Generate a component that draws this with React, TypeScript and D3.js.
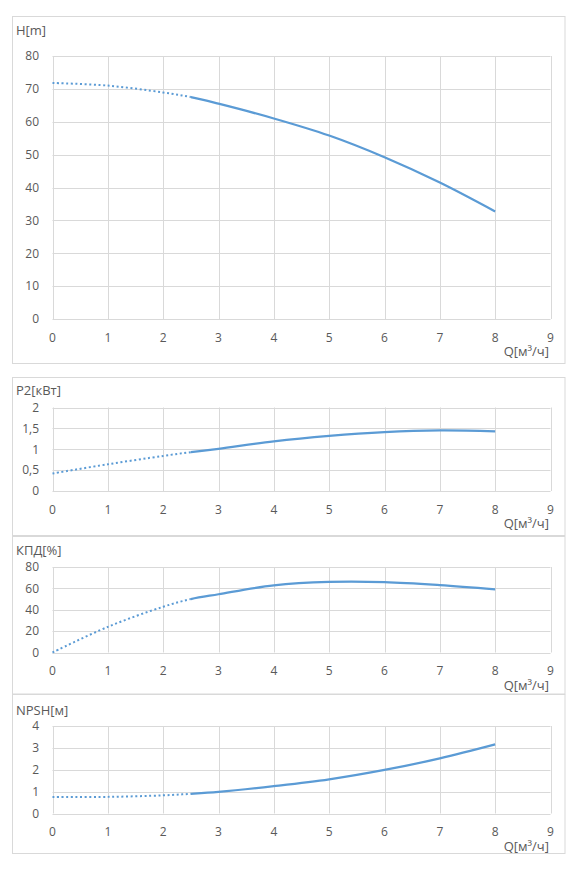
import React from "react";
import * as d3 from "d3";

// Pump performance curves, flow Q in m³/h
const flowQ = [0, 1, 2, 2.5, 3, 4, 5, 6, 7, 8];
const headM = [71.8, 71.0, 68.9, 67.5, 65.5, 61.0, 55.8, 49.2, 41.5, 32.7];
const powerKW = [0.42, 0.64, 0.84, 0.93, 1.01, 1.19, 1.32, 1.41, 1.45, 1.43];
const efficiencyPct = [0, 24, 42.8, 50, 54.5, 62.8, 66, 65.8, 63, 59];
const npshM = [0.76, 0.76, 0.83, 0.9, 0.99, 1.25, 1.56, 1.99, 2.52, 3.16];

// below this flow the curve is drawn dotted
const workStart = 2.5;

const xTicks = [0, 1, 2, 3, 4, 5, 6, 7, 8, 9];
const headTicks = [0, 10, 20, 30, 40, 50, 60, 70, 80];
const powerTicks = [0, 0.5, 1, 1.5, 2];
const efficiencyTicks = [0, 20, 40, 60, 80];
const npshTicks = [0, 1, 2, 3, 4];

const W = 570;
const H = 872;
const FRAME_L = 12;
const FRAME_R = 564.5;
const PLOT_L = 52.5;
const PLOT_R = 550.5;

const LINE = "#5B9BD5";
const GRID = "#d9d9d9";
const TEXT = "#595959";
const FONT = "'Open Sans', 'DejaVu Sans', sans-serif";

type Panel = {
  id: string;
  title: string;
  values: number[];
  ticks: number[];
  frame: [number, number];
  plot: [number, number];
  titleY: number;
};

const panels: Panel[] = [
  { id: "head", title: "H[m]", values: headM, ticks: headTicks, frame: [16, 363], plot: [56, 319], titleY: 35 },
  { id: "power", title: "P2[кВт]", values: powerKW, ticks: powerTicks, frame: [377, 535], plot: [407.5, 491], titleY: 394.5 },
  { id: "eff", title: "КПД[%]", values: efficiencyPct, ticks: efficiencyTicks, frame: [536, 693.5], plot: [567, 652.5], titleY: 554.5 },
  { id: "npsh", title: "NPSH[м]", values: npshM, ticks: npshTicks, frame: [694, 853], plot: [726, 813.5], titleY: 714.5 },
];

const fmt = (v: number) => String(v).replace(".", ",");

function CurvePanel({ p }: { p: Panel }) {
  const x = d3.scaleLinear().domain([0, 9]).range([PLOT_L, PLOT_R]);
  const y = d3
    .scaleLinear()
    .domain([p.ticks[0], p.ticks[p.ticks.length - 1]])
    .range([p.plot[1], p.plot[0]]);

  const pts = flowQ.map((q, i) => [q, p.values[i]] as [number, number]);
  const line = d3
    .line<[number, number]>()
    .x((d) => x(d[0]))
    .y((d) => y(d[1]))
    .curve(d3.curveCatmullRom.alpha(0.5));
  const d = line(pts) ?? "";
  const xs = x(workStart);
  const rnd = (v: number) => Math.round(v) + 0.5;

  return (
    <g>
      <defs>
        <clipPath id={`${p.id}-pre`}>
          <rect x={0} y={p.frame[0]} width={xs} height={p.frame[1] - p.frame[0]} />
        </clipPath>
        <clipPath id={`${p.id}-work`}>
          <rect x={xs} y={p.frame[0]} width={W - xs} height={p.frame[1] - p.frame[0]} />
        </clipPath>
      </defs>
      <rect
        x={FRAME_L + 0.5}
        y={p.frame[0] + 0.5}
        width={FRAME_R - FRAME_L}
        height={p.frame[1] - p.frame[0]}
        fill="#fff"
        stroke={GRID}
      />
      <text x={16} y={p.titleY} fontSize={13} fill={TEXT}>
        {p.title}
      </text>
      {p.ticks.map((t) => (
        <g key={"y" + t}>
          <line x1={PLOT_L} x2={PLOT_R} y1={rnd(y(t))} y2={rnd(y(t))} stroke={GRID} />
          <text x={39} y={y(t) + 4.3} fontSize={12} fill={TEXT} textAnchor="end">
            {fmt(t)}
          </text>
        </g>
      ))}
      {xTicks.map((t) => (
        <g key={"x" + t}>
          <line x1={rnd(x(t))} x2={rnd(x(t))} y1={p.plot[0]} y2={p.plot[1]} stroke={GRID} />
          <text x={x(t)} y={p.plot[1] + 22.5} fontSize={12} fill={TEXT} textAnchor="middle">
            {t}
          </text>
        </g>
      ))}
      <text x={549} y={p.plot[1] + 37} fontSize={13} fill={TEXT} textAnchor="end">
        Q[м³/ч]
      </text>
      <path
        d={d}
        fill="none"
        stroke={LINE}
        strokeWidth={2}
        strokeDasharray="2 2.6"
        clipPath={`url(#${p.id}-pre)`}
      />
      <path d={d} fill="none" stroke={LINE} strokeWidth={2.25} clipPath={`url(#${p.id}-work)`} />
    </g>
  );
}

export default function App() {
  return (
    <div style={{ position: "absolute", left: 0, top: 0 }}>
      <svg width={W} height={H} style={{ display: "block", fontFamily: FONT }}>
        <rect width={W} height={H} fill="#fff" />
        {panels.map((p) => (
          <CurvePanel key={p.id} p={p} />
        ))}
      </svg>
    </div>
  );
}
